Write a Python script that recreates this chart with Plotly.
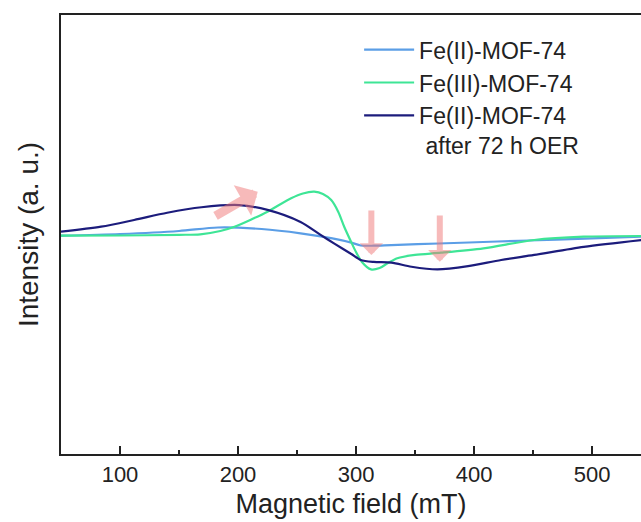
import plotly.graph_objects as go

# Magnetic field (mT) and intensity (a.u.)
field_fe2 = [50, 100, 150, 183, 220, 253, 280, 296, 304, 315, 330, 370, 420, 470, 542]
int_fe2 = [-0.55, 0.23, 1.6, 3.2, 2.5, 0.55, -1.8, -3.7, -5.0, -5.1, -4.8, -4.1, -3.2, -2.3, -1.0]

field_fe3 = [50, 100, 150, 168, 185, 197, 212, 225, 245, 255, 264.6, 272, 279, 285, 290,
             295.8, 300, 305, 312.7, 320, 327, 335, 350, 372, 408, 451, 493, 542]
int_fe3 = [-0.55, -0.46, -0.14, 0.09, 1.6, 3.55, 7.06, 10.4, 16.5, 18.7, 19.5, 18.5, 15.7, 10.3, 3.55,
           -3.3, -8.0, -12.5, -15.9, -15.3, -13.0, -10.8, -9.3, -8.3, -6.3, -2.5, -1.0, -0.68]

field_oer = [50, 84, 112, 140, 169, 201, 225, 253, 270, 282, 296, 304, 315, 330, 347, 369,
             395, 423, 451, 493, 542]
int_oer = [1.28, 3.55, 6.6, 9.9, 12.4, 13.4, 11.2, 5.7, -0.2, -4.3, -8.9, -11.6, -12.5, -12.8, -14.7, -15.9,
           -14.4, -11.6, -9.3, -5.6, -2.5]

series_names = ["Fe(II)-MOF-74", "Fe(III)-MOF-74", "Fe(II)-MOF-74<br>&nbsp;after 72 h OER"]
series_colors = ["#5b9ee6", "#3ee596", "#1c1c7c"]

x_ticks = [100, 200, 300, 400, 500]

# arrows: (tail field, tail intensity, head field, head intensity)
arrow_tails_x = [179.7, 313, 371]
arrow_tails_y = [8.1, 11.6, 9.3]
arrow_heads_x = [216.7, 313, 371]
arrow_heads_y = [19.5, -9.3, -12.4]
arrow_widths = [9, 6, 6]

FONT = "Liberation Sans, Arial, sans-serif"

fig = go.Figure()
for xs, ys, name, col in zip([field_fe2, field_fe3, field_oer], [int_fe2, int_fe3, int_oer],
                             series_names, series_colors):
    fig.add_trace(go.Scatter(x=xs, y=ys, mode="lines", name=name,
                             line=dict(color=col, width=2.2, shape="spline", smoothing=0.8)))

for tx, ty, hx, hy, w in zip(arrow_tails_x, arrow_tails_y, arrow_heads_x, arrow_heads_y, arrow_widths):
    fig.add_annotation(x=hx, y=hy, ax=tx, ay=ty, xref="x", yref="y", axref="x", ayref="y",
                       text="", showarrow=True, arrowhead=1, arrowsize=0.65, arrowwidth=w,
                       arrowcolor="rgba(240,120,120,0.5)")

fig.update_layout(
    width=641, height=522,
    margin=dict(l=61, r=0, t=15, b=68),
    paper_bgcolor="white", plot_bgcolor="white",
    font=dict(family=FONT, color="#222222"),
    showlegend=True,
    legend=dict(x=0.514, y=0.97, xanchor="left", yanchor="top", valign="top",
                font=dict(size=23, family=FONT, color="#222222"),
                bgcolor="rgba(0,0,0,0)", tracegroupgap=0, itemwidth=50),
    xaxis=dict(range=[50, 541.5], tickmode="array", tickvals=x_ticks,
               ticks="inside", ticklen=8, tickwidth=1.5, tickcolor="#222222",
               minor=dict(dtick=50, tick0=0, ticks="inside", ticklen=4, tickwidth=1.5, tickcolor="#222222"),
               showline=True, linecolor="#222222", linewidth=2, mirror=True,
               showgrid=False, zeroline=False,
               tickfont=dict(size=22, family=FONT, color="#222222"),
               title=dict(text="Magnetic field (mT)", font=dict(size=27, family=FONT, color="#222222"),
                          standoff=8)),
    yaxis=dict(range=[-100, 100], showticklabels=False, ticks="",
               showline=True, linecolor="#222222", linewidth=2, mirror=False,
               showgrid=False, zeroline=False,
               title=dict(text="Intensity (a. u.)", font=dict(size=28, family=FONT, color="#222222"),
                          standoff=12)),
)

fig.write_html("out.html")
